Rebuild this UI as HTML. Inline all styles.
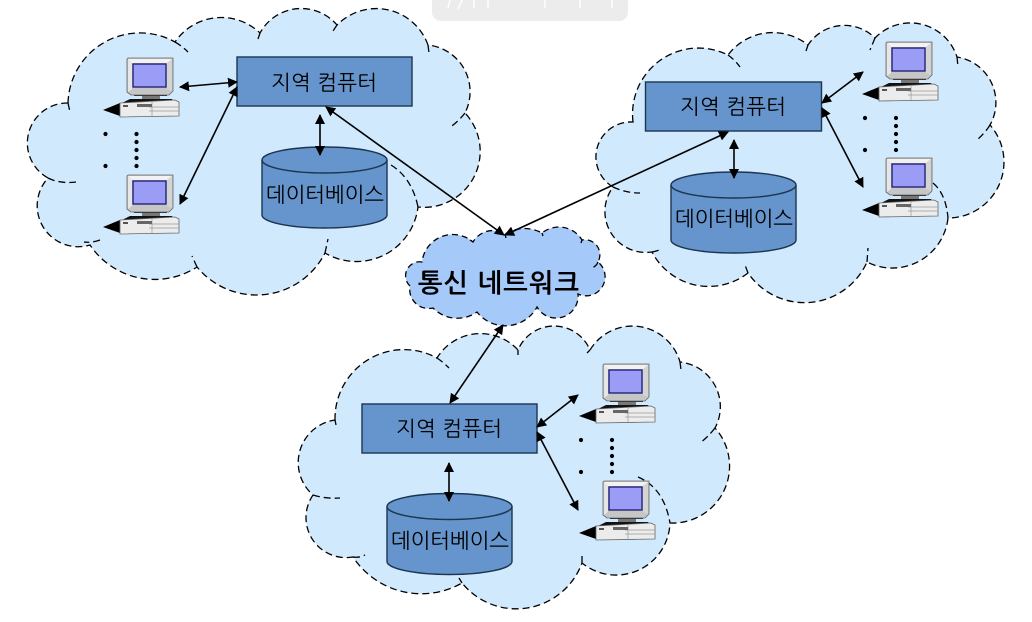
<!DOCTYPE html>
<html lang="ko">
<head>
<meta charset="utf-8">
<title>통신 네트워크</title>
<style>
html,body{margin:0;padding:0;background:#fff;width:1032px;height:622px;overflow:hidden}
svg{display:block;filter:blur(.35px)}
text{font-family:"Liberation Sans","NanumGothic","Noto Sans CJK KR",sans-serif;fill:#000}
.c{fill:#d1e9fd;stroke:#000;stroke-width:1.3;stroke-dasharray:7 4}
.h{fill:none;stroke:#000;stroke-width:1.3;stroke-dasharray:7 4}
.b{fill:#6595cc;stroke:#1c3550;stroke-width:1.4}
.a{stroke:#000;stroke-width:1.6;fill:none;marker-start:url(#m);marker-end:url(#m)}
.t{font-size:21px}
</style>
</head>
<body>
<svg width="1032" height="622" viewBox="0 0 1032 622" xmlns="http://www.w3.org/2000/svg">
<defs>
<marker id="m" viewBox="0 0 10 10" refX="9" refY="5" markerUnits="userSpaceOnUse" markerWidth="10" markerHeight="11" orient="auto-start-reverse"><path d="M0 0L10 5L0 10Z" fill="#000"/></marker>
<g id="pc">
<path d="M-24 52L-7 45V58Z" fill="#000"/>
<path d="M-5 45L3 41H45L47 44Z" fill="#111"/>
<rect x="7" y="34" width="33" height="4" fill="#222"/>
<rect x="15" y="38" width="18" height="3" fill="#777"/>
<path d="M0 1L1 0H46V33L42 37H4L0 34Z" fill="#c6c6c6" stroke="#666" stroke-width=".8"/>
<path d="M1 1H45L40 5H5Z" fill="#f2f2f2"/>
<path d="M1 1L5 5V31L1 34Z" fill="#e6e6e6"/>
<path d="M40 5L45 1V33L40 31Z" fill="#d4d4d4"/>
<rect x="6" y="6" width="33" height="23" fill="#9a9cf6" stroke="#1a1a70" stroke-width="1.3"/>
<path d="M-7 45L48 42L52 44V58L-7 59Z" fill="#ececec" stroke="#666" stroke-width=".8"/>
<path d="M22 49H52M22 53H52M25 44V58" stroke="#999" stroke-width=".7" fill="none"/>
<rect x="10" y="46" width="15" height="3" fill="#666"/>
<rect x="-4" y="47" width="5" height="2" fill="#555"/>
</g>
<g id="dots" fill="#000">
<circle cx="0" cy="0" r="2.1"/><circle cx="0" cy="32" r="2.1"/>
<circle cx="31" cy="0" r="2.1"/><circle cx="31" cy="8" r="2.1"/><circle cx="31" cy="16" r="2.1"/><circle cx="31" cy="24" r="2.1"/><circle cx="31" cy="32" r="2.1"/>
</g>
<g id="cyl">
<path d="M0 13A62.5 13 0 0 1 125 13V68A62.5 13 0 0 1 0 68Z" class="b"/>
<path d="M0 13A62.5 13 0 0 0 125 13" fill="none" stroke="#1c3550" stroke-width="1.4"/>
</g>
</defs>

<rect x="432" y="-20" width="196" height="41" rx="9" fill="#ececec"/>
<path d="M450 0L448 8M462 0L458 9M474 0V8M488 0V8M545 0V8M580 0V8M612 0V8" stroke="#fff" stroke-width="1.5"/>

<!-- Cloud 1 -->
<path class="c" d="M68 103A72 72 0 0 1 175 42A56 56 0 0 1 260 33A47 47 0 0 1 337 25A55 55 0 0 1 428 45A47 47 0 0 1 465 113A56 56 0 0 1 418 207A62 62 0 0 1 325 253A77 77 0 0 1 197 267A78 78 0 0 1 90 245A41 41 0 0 1 48 178A40 40 0 0 1 68 103Z"/>
<path class="h" d="M175 42Q182 46 188 52M260 33L258 39M337 25L331 34M428 45L429 53M465 113Q458 122 449 128M391 165Q412 178 418 207M100 240Q92 243 84 242M48 178Q60 184 76 182M68 103L70 112M325 253L328 239M197 267L192 256"/>

<!-- Cloud 2 -->
<path class="c" d="M633 122A66 66 0 0 1 728 55A56 56 0 0 1 808 45A43.500 43.500 0 0 1 875 38A49 49 0 0 1 957 57A46 46 0 0 1 990 125A56 56 0 0 1 948 218A56 56 0 0 1 867 262A68.500 68.500 0 0 1 748 273A64 64 0 0 1 652 252A41 41 0 0 1 613 187A35 35 0 0 1 633 122Z"/>
<path class="h" d="M728 55Q735 60 740 67M808 45L806 51M875 38L870 50M957 57L958 67M990 125Q985 133 977 140M933 183Q946 194 948 218M652 252Q657 251 662 249M613 187Q626 193 640 193M867 262L868 248M748 273L745 265"/>

<!-- Cloud 3 -->
<path class="c" d="M335 420A69 69 0 0 1 437 358A51 51 0 0 1 518 350A39 39 0 0 1 590 350A49.500 49.500 0 0 1 680 362A45 45 0 0 1 715 428A57 57 0 0 1 670 523A54 54 0 0 1 582 563A70 70 0 0 1 462 583A82 82 0 0 1 353 557A40 40 0 0 1 313 495A43 43 0 0 1 335 420Z"/>
<path class="h" d="M437 358Q443 362 449 368M518 350L518 355M590 350L587 353M680 362L681 370M715 428Q708 437 700 443M638 477Q664 488 670 523M353 557Q359 558 365 555M313 495Q326 499 340 498M335 420L336 425M582 563L582 553M462 583L459 578"/>

<!-- Network cloud -->
<path d="M410 286A14 14 0 0 1 422 262A31 31 0 0 1 473 242A23 23 0 0 1 505 234A37 37 0 0 1 542 233A27 27 0 0 1 582 240A15 15 0 0 1 598 262A19 19 0 0 1 578 294A22 22 0 0 1 537 307A36 36 0 0 1 477 312A34 34 0 0 1 433 308A19 19 0 0 1 410 286Z" fill="#a5c9f9" stroke="#000" stroke-width="1.3" stroke-dasharray="6 4"/>
<path class="h" d="M473 242L470 240M505 234L506 238M582 240L581 243M598 262Q596 267 591 268M542 233L543 236"/>

<!-- Boxes -->
<rect class="b" x="237" y="57" width="175" height="49"/>
<rect class="b" x="645.500" y="82" width="176" height="49"/>
<rect class="b" x="362" y="404" width="175" height="49"/>

<use href="#cyl" x="262" y="147"/>
<use href="#cyl" x="671" y="172"/>
<use href="#cyl" x="387" y="493.500"/>

<!-- Computers -->
<use href="#pc" x="127" y="58"/>
<use href="#pc" x="127" y="175"/>
<use href="#pc" x="886" y="42"/>
<use href="#pc" x="886" y="158"/>
<use href="#pc" x="603" y="364"/>
<use href="#pc" x="603" y="481"/>

<use href="#dots" x="105.500" y="134"/>
<use href="#dots" x="865" y="118"/>
<use href="#dots" x="581" y="440"/>

<!-- Connectors -->
<path class="a" d="M180 87L237 82"/>
<path class="a" d="M237 87L180 204"/>
<path class="a" d="M320 115V155"/>
<path class="a" d="M326 107L504 235"/>
<path class="a" d="M734 140V178"/>
<path class="a" d="M728 132L505 235"/>
<path class="a" d="M863 72L822 103"/>
<path class="a" d="M822 108L863 187"/>
<path class="a" d="M578 395L537 427"/>
<path class="a" d="M537 432L578 510"/>
<path class="a" d="M449 463V501"/>
<path class="a" d="M450 403L503 325"/>

<!-- Labels -->
<text class="t" x="271" y="90" textLength="106">지역 컴퓨터</text>
<text class="t" x="680" y="114" textLength="106">지역 컴퓨터</text>
<text class="t" x="396" y="436" textLength="106">지역 컴퓨터</text>
<text class="t" x="266" y="202" textLength="118">데이터베이스</text>
<text class="t" x="675" y="226" textLength="118">데이터베이스</text>
<text class="t" x="391" y="548" textLength="118">데이터베이스</text>
<text x="418" y="292" font-size="26" font-weight="700" textLength="161">통신 네트워크</text>
</svg>
</body>
</html>
